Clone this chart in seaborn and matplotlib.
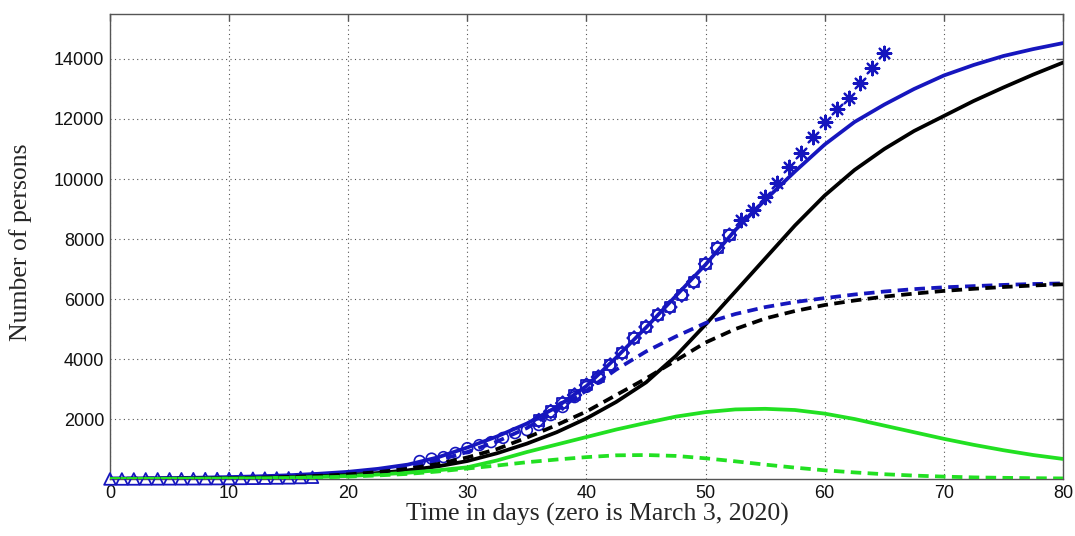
import numpy as np
import pandas as pd
import matplotlib
matplotlib.use("Agg")
import matplotlib.pyplot as plt
import seaborn as sns

# ---- data ----
days = [0, 2.5, 5, 7.5, 10, 12.5, 15, 17.5, 20, 22.5, 25, 27.5, 30, 32.5, 35, 37.5,
        40, 42.5, 45, 47.5, 50, 52.5, 55, 57.5, 60, 62.5, 65, 67.5, 70, 72.5, 75, 77.5, 80]

blue_solid = [15, 20, 30, 45, 65, 90, 125, 175, 240, 340, 480, 720, 1050, 1420, 1850, 2400,
              3100, 4050, 5050, 6100, 7150, 8300, 9300, 10250, 11150, 11900, 12480, 13000,
              13450, 13800, 14100, 14330, 14530]
black_solid = [5, 8, 12, 18, 28, 42, 62, 95, 135, 200, 290, 420, 600, 860, 1180, 1560,
               2020, 2570, 3220, 4100, 5150, 6250, 7350, 8450, 9450, 10300, 11000, 11600,
               12100, 12600, 13050, 13480, 13880]
blue_dashed = [10, 14, 20, 30, 45, 65, 95, 140, 200, 290, 420, 620, 900, 1250, 1700, 2300,
               2950, 3650, 4250, 4750, 5200, 5500, 5730, 5900, 6030, 6150, 6250, 6330,
               6390, 6430, 6470, 6500, 6520]
black_dashed = [5, 8, 12, 18, 30, 45, 70, 105, 155, 230, 340, 500, 720, 1000, 1380, 1800,
                2250, 2800, 3350, 3950, 4550, 5000, 5350, 5600, 5800, 5950, 6080, 6180,
                6270, 6340, 6400, 6450, 6490]
green_solid = [3, 5, 8, 13, 20, 30, 45, 70, 100, 150, 210, 290, 390, 620, 900, 1150,
               1400, 1650, 1870, 2080, 2230, 2320, 2340, 2300, 2180, 2000, 1780, 1560,
               1340, 1140, 960, 800, 670]
green_dashed = [2, 4, 6, 10, 15, 24, 35, 55, 80, 120, 170, 250, 350, 450, 560, 650,
                730, 790, 800, 770, 690, 590, 480, 380, 290, 220, 160, 115,
                80, 55, 40, 28, 20]

tri_days = list(range(0, 18))
tri_vals = [2, 2, 3, 5, 6, 7, 8, 10, 12, 14, 17, 20, 25, 30, 35, 40, 50, 60]

circ_days = list(range(26, 42))
circ_vals = [600, 680, 730, 870, 1030, 1130, 1230, 1370, 1530, 1630, 1800, 2130,
             2400, 2730, 3070, 3350]

sq_days = list(range(36, 53))
sq_vals = [1950, 2250, 2530, 2800, 3130, 3400, 3800, 4200, 4700, 5070, 5470, 5730,
           6130, 6570, 7170, 7700, 8130]

star_days = list(range(53, 66))
star_vals = [8630, 8970, 9400, 9870, 10400, 10870, 11400, 11900, 12330, 12700,
             13200, 13700, 14200]

x_ticks = [0, 10, 20, 30, 40, 50, 60, 70, 80]
y_ticks = [2000, 4000, 6000, 8000, 10000, 12000, 14000]

# ---- styling ----
sns.set_style("white")
plt.rcParams['font.family'] = ['Liberation Sans', 'DejaVu Sans']

BLUE = "#1616be"
GREEN = "#22e022"
BLACK = "#000000"

fig = plt.figure(figsize=(10.75, 5.36), dpi=100)
ax = fig.add_axes([0.1023, 0.1063, 0.8865, 0.8676])

lw = 2.7
dash = (2.8, 1.7)

# markers (data)
sns.scatterplot(x=tri_days, y=tri_vals, ax=ax, marker='^', s=70, facecolors='none',
                edgecolor=BLUE, linewidth=1.3, zorder=3, clip_on=False)
sns.scatterplot(x=circ_days, y=circ_vals, ax=ax, marker='o', s=60, facecolors='none',
                edgecolor=BLUE, linewidth=1.2, zorder=3)
sns.scatterplot(x=sq_days, y=sq_vals, ax=ax, marker='s', s=55, facecolors='none',
                edgecolor=BLUE, linewidth=1.3, zorder=3)
sns.scatterplot(x=sq_days, y=sq_vals, ax=ax, marker='D', s=50, facecolors='none',
                edgecolor=BLUE, linewidth=1.2, zorder=3)
sns.scatterplot(x=star_days, y=star_vals, ax=ax, marker=(8, 2, 0), s=95,
                color=BLUE, edgecolor=BLUE, linewidth=1.6, zorder=3)

# model curves
sns.lineplot(x=days, y=blue_solid, ax=ax, color=BLUE, linewidth=lw, zorder=4)
sns.lineplot(x=days, y=black_solid, ax=ax, color=BLACK, linewidth=lw, zorder=4)
sns.lineplot(x=days, y=green_solid, ax=ax, color=GREEN, linewidth=lw, zorder=4)
sns.lineplot(x=days, y=blue_dashed, ax=ax, color=BLUE, linewidth=lw, zorder=4,
             linestyle=(0, dash))
sns.lineplot(x=days, y=black_dashed, ax=ax, color=BLACK, linewidth=lw, zorder=4,
             linestyle=(0, dash))
sns.lineplot(x=days, y=green_dashed, ax=ax, color=GREEN, linewidth=lw, zorder=4,
             linestyle=(0, dash))

ax.set_xlim(0, 80)
ax.set_ylim(0, 15500)
ax.set_xticks(x_ticks)
ax.set_yticks(y_ticks)
ax.set_xticklabels([str(t) for t in x_ticks])
ax.set_yticklabels([str(t) for t in y_ticks])

ax.grid(True, color="#555555", linestyle=(0, (1, 3)), linewidth=0.8)
ax.set_axisbelow(True)
for sp in ax.spines.values():
    sp.set_visible(True)
    sp.set_color("#555555")
    sp.set_linewidth(1.0)

ax.tick_params(direction='in', length=5, width=1.0, color="#555555",
               top=True, right=True, labelsize=13, pad=4, labelcolor="#111111")

ax.set_xlabel("Time in days (zero is March 3, 2020)", fontsize=18.5,
              family=['Liberation Serif', 'DejaVu Serif'])
ax.xaxis.set_label_coords(0.511, -0.052)
ax.set_ylabel("Number of persons", fontsize=18.5,
              family=['Liberation Serif', 'DejaVu Serif'])
ax.yaxis.set_label_coords(-0.082, 0.51)

fig.savefig("out.png", dpi=100)
